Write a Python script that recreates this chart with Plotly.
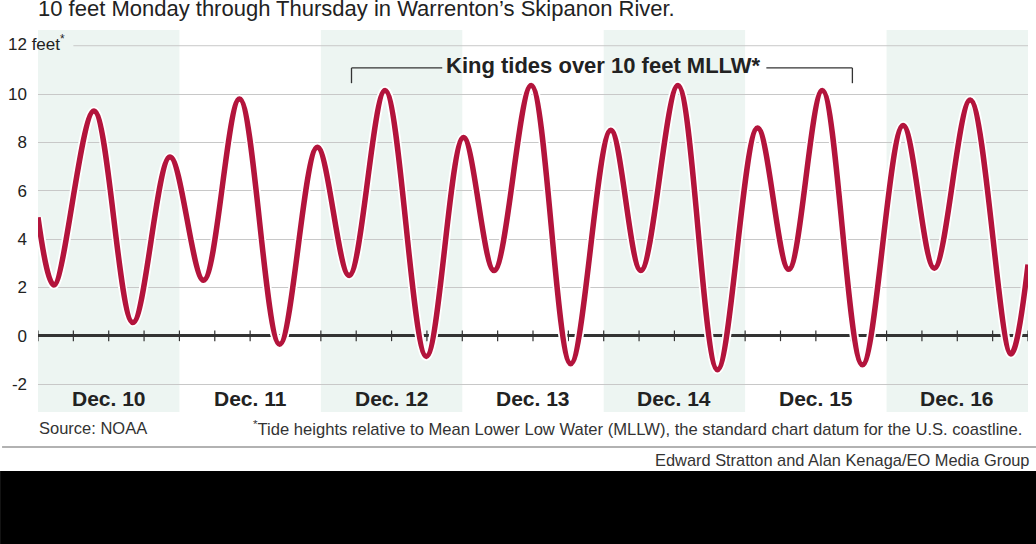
import plotly.graph_objects as go

# ---- data ----
hours = [0, 2.7, 9.5, 16.1, 22.4, 28.1, 34.2, 41.0, 47.4, 52.8, 58.9, 65.9, 72.2, 77.4,
         83.7, 90.4, 97.2, 102.3, 108.6, 115.3, 122.1, 127.4, 133.1, 139.9, 146.8,
         152.1, 158.2, 165.1, 168]
heights = [4.9, 2.1, 9.3, 0.55, 7.4, 2.3, 9.8, -0.35, 7.8, 2.5, 10.15, -0.85, 8.2, 2.7,
           10.35, -1.15, 8.5, 2.7, 10.35, -1.4, 8.6, 2.75, 10.15, -1.2, 8.7, 2.8,
           9.75, -0.75, 2.95]
day_labels = ["Dec. 10", "Dec. 11", "Dec. 12", "Dec. 13", "Dec. 14", "Dec. 15", "Dec. 16"]
shaded_days = [0, 2, 4, 6]
ytick_vals = [-2, 0, 2, 4, 6, 8, 10]
ytick_text = ["-2", "0", "2", "4", "6", "8", "10"]
six_hour_ticks = list(range(0, 169, 6))

W, H = 1036, 544
L, R, T, B = 36, 8, 30, 132
PW, PH = W - L - R, H - T - B


def px_x(px):
    return (px - L) / PW


def px_y(py):
    return (H - B - py) / PH


FONT = "Liberation Sans, Arial, Helvetica, sans-serif"
TXT = "#222222"
RED = "#b3143c"
SHADE = "#edf5f2"

fig = go.Figure()
fig.add_trace(go.Scatter(x=hours, y=heights, mode="lines",
                         line=dict(color="white", width=9, shape="spline", smoothing=1.0),
                         hoverinfo="skip", showlegend=False))
fig.add_trace(go.Scatter(x=hours, y=heights, mode="lines",
                         line=dict(color=RED, width=5.5, shape="spline", smoothing=1.0),
                         showlegend=False))

shapes = []
for d in shaded_days:
    shapes.append(dict(type="rect", xref="x", yref="paper", x0=d * 24, x1=(d + 1) * 24,
                       y0=0, y1=1, fillcolor=SHADE, line=dict(width=0), layer="below"))
# 12-foot gridline (starts after its label)
shapes.append(dict(type="line", xref="x", yref="y", x0=6.0, x1=168, y0=12, y1=12,
                   line=dict(color="#c8c8c8", width=1), layer="between"))
# tick marks on the zero line every six hours
for t in six_hour_ticks:
    shapes.append(dict(type="line", xref="x", yref="y", x0=t, x1=t, y0=-0.22, y1=0.22,
                       line=dict(color="#333333", width=1.2), layer="between"))
# King tides bracket
for xs, xe in [(53.2, 68.6), (123.6, 138.2)]:
    shapes.append(dict(type="line", xref="x", yref="y", x0=xs, x1=xe, y0=11.08, y1=11.08,
                       line=dict(color="#333333", width=1.3)))
for xv in [53.2, 138.2]:
    shapes.append(dict(type="line", xref="x", yref="y", x0=xv, x1=xv, y0=11.08, y1=10.45,
                       line=dict(color="#333333", width=1.3)))
# separator line and black band at bottom
shapes.append(dict(type="line", xref="paper", yref="paper", x0=px_x(0), x1=px_x(W),
                   y0=px_y(447), y1=px_y(447), line=dict(color="#999999", width=1.5)))
shapes.append(dict(type="rect", xref="paper", yref="paper", x0=px_x(-2), x1=px_x(W + 2),
                   y0=px_y(471), y1=px_y(H + 2), fillcolor="black", line=dict(width=0)))

annotations = []
for i, lab in enumerate(day_labels):
    annotations.append(dict(x=i * 24 + 12, y=-2.6, xref="x", yref="y", text="<b>" + lab + "</b>",
                            showarrow=False, font=dict(family=FONT, size=21, color=TXT)))
annotations.append(dict(x=px_x(4), y=12.1, xref="paper", yref="y", xanchor="left",
                        text="12 feet<sup>*</sup>", showarrow=False,
                        font=dict(family=FONT, size=17, color=TXT)))
annotations.append(dict(x=95.9, y=11.2, xref="x", yref="y",
                        text="<b>King tides over 10 feet MLLW*</b>", showarrow=False,
                        font=dict(family=FONT, size=22, color=TXT)))
annotations.append(dict(x=px_x(34), y=px_y(9), xref="paper", yref="paper", xanchor="left",
                        yanchor="middle",
                        text="10 feet Monday through Thursday in Warrenton\u2019s Skipanon River.",
                        showarrow=False, font=dict(family=FONT, size=22, color=TXT)))
annotations.append(dict(x=px_x(35), y=px_y(428), xref="paper", yref="paper", xanchor="left",
                        yanchor="middle", text="Source: NOAA", showarrow=False,
                        font=dict(family=FONT, size=16.5, color="#333333")))
annotations.append(dict(x=px_x(1024), y=px_y(428), xref="paper", yref="paper", xanchor="right",
                        yanchor="middle",
                        text="<sup>*</sup>Tide heights relative to Mean Lower Low Water (MLLW), "
                             "the standard chart datum for the U.S. coastline.",
                        showarrow=False, font=dict(family=FONT, size=16.6, color="#333333")))
annotations.append(dict(x=px_x(1032), y=px_y(460), xref="paper", yref="paper", xanchor="right",
                        yanchor="middle", text="Edward Stratton and Alan Kenaga/EO Media Group",
                        showarrow=False, font=dict(family=FONT, size=16.4, color="#333333")))

fig.update_layout(
    width=W, height=H,
    margin=dict(l=L, r=R, t=T, b=B, pad=0),
    paper_bgcolor="white", plot_bgcolor="white",
    shapes=shapes, annotations=annotations,
    xaxis=dict(range=[0, 168], showgrid=False, zeroline=False, showticklabels=False,
               ticks="", showline=False, fixedrange=True),
    yaxis=dict(range=[-3.15, 12.65], tickvals=ytick_vals, ticktext=ytick_text,
               showgrid=True, gridcolor="#c8c8c8", gridwidth=1,
               zeroline=True, zerolinecolor="#333333", zerolinewidth=2.5,
               ticks="", showline=False, ticklabelstandoff=10,
               tickfont=dict(family=FONT, size=17, color=TXT), fixedrange=True),
    showlegend=False,
)

fig.write_html("out.html", config={"displayModeBar": False},
               post_script="document.body.style.margin='0';document.body.style.padding='0';")
